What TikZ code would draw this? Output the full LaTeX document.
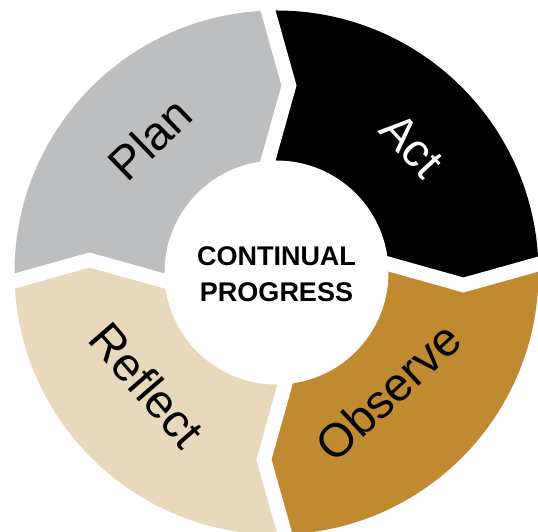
\documentclass[tikz,border=0pt]{standalone}
\usepackage{fontspec}
\setmainfont{Liberation Sans}
\usetikzlibrary{calc}
\definecolor{plangray}{RGB}{189,190,192}
\definecolor{actblack}{RGB}{0,0,0}
\definecolor{obsgold}{RGB}{191,138,48}
\definecolor{refbeige}{RGB}{233,217,188}
\tikzset{
  gapline/.style={draw=white,line width=14.5pt,line join=miter,miter limit=10},
  seglabel/.style={inner sep=0pt,font=\fontsize{47}{50}\selectfont},
  centerlabel/.style={align=center,inner sep=0pt,font=\bfseries\fontsize{27}{36}\selectfont}
}
\begin{document}
\begin{tikzpicture}[x=1pt,y=1pt]
\useasboundingbox (0,0) rectangle (538,532);
\coordinate (C) at (276.5,259.5);
% chevron centre lines of the four gaps (local frame: +y radial, +x clockwise)
\foreach \nm/\rot in {T/0,R/-90,B/-180,L/90}{
  \begin{scope}[shift={(276.5,259.5)},rotate=\rot]
    \coordinate (\nm-out) at (-12.7,277);
    \coordinate (\nm-tip) at (12.5,187);
    \coordinate (\nm-in)  at (-12.7,97);
  \end{scope}
}
\begin{scope}
  \clip (C) circle (262);
  \fill[plangray] (C) -- (L-in) -- (L-tip) -- (L-out) -- ($(C)+(135:400)$) -- (T-out) -- (T-tip) -- (T-in) -- cycle;
  \fill[actblack] (C) -- (T-in) -- (T-tip) -- (T-out) -- ($(C)+(45:400)$) -- (R-out) -- (R-tip) -- (R-in) -- cycle;
  \fill[obsgold] (C) -- (R-in) -- (R-tip) -- (R-out) -- ($(C)+(-45:400)$) -- (B-out) -- (B-tip) -- (B-in) -- cycle;
  \fill[refbeige] (C) -- (B-in) -- (B-tip) -- (B-out) -- ($(C)+(-135:400)$) -- (L-out) -- (L-tip) -- (L-in) -- cycle;
\end{scope}
\draw[gapline] (T-out) -- (T-tip) -- (T-in);
\draw[gapline] (R-out) -- (R-tip) -- (R-in);
\draw[gapline] (B-out) -- (B-tip) -- (B-in);
\draw[gapline] (L-out) -- (L-tip) -- (L-in);
\fill[white] (C) circle (112);
\node[centerlabel] (center) at (276.5,258) {CONTINUAL\\PROGRESS};
\node[seglabel,rotate=44] (plan) at (150,393) {Plan};
\node[seglabel,rotate=-47,text=white] (act) at (412,387) {Act};
\node[seglabel,rotate=43] (observe) at (388,140) {Observe};
\node[seglabel,rotate=-49] (reflect) at (147,147) {Reflect};
\end{tikzpicture}
\end{document}
